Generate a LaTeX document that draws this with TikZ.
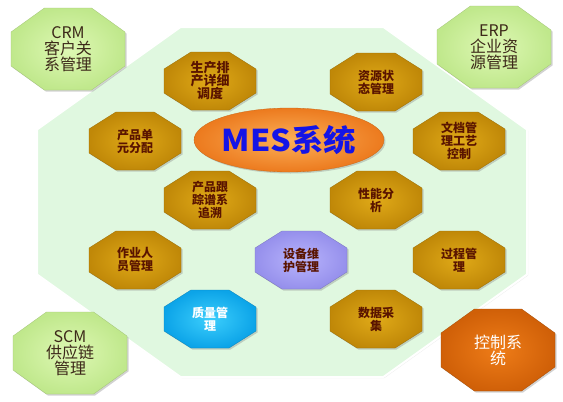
\documentclass[tikz,border=0pt]{standalone}
\usepackage{fontspec}
\newfontfamily\cjk{Noto Sans CJK SC}
\usetikzlibrary{shadows, shapes.geometric}

\definecolor{framefill}{RGB}{224,248,224}
\definecolor{greenlight}{RGB}{222,248,180}
\definecolor{greendark}{RGB}{192,232,140}
\definecolor{outerink}{RGB}{60,40,25}
\definecolor{goldlight}{RGB}{224,170,24}
\definecolor{golddark}{RGB}{192,136,8}
\definecolor{goldink}{RGB}{90,20,0}
\definecolor{purplelight}{RGB}{184,180,252}
\definecolor{purpledark}{RGB}{150,144,236}
\definecolor{cyanlight}{RGB}{60,206,252}
\definecolor{cyandark}{RGB}{12,164,232}
\definecolor{ctrllight}{RGB}{238,124,24}
\definecolor{ctrldark}{RGB}{208,96,8}
\definecolor{meslight}{RGB}{252,176,88}
\definecolor{mesdark}{RGB}{236,122,30}
\definecolor{mesink}{RGB}{20,20,230}

% octagon through centre (#1,#2), half width #3, half height #4
\newcommand{\octagon}[4]{({#1-#3},{#2-0.414*#4}) -- ({#1-0.414*#3},{#2-#4}) -- ({#1+0.414*#3},{#2-#4}) -- ({#1+#3},{#2-0.414*#4}) -- ({#1+#3},{#2+0.414*#4}) -- ({#1+0.414*#3},{#2+#4}) -- ({#1-0.414*#3},{#2+#4}) -- ({#1-#3},{#2+0.414*#4}) -- cycle}

\tikzset{
  boxshadow/.style={drop shadow={shadow xshift=1.5pt, shadow yshift=-1.5pt, opacity=0.35}},
  frame/.style={fill=framefill, draw=white, line width=2pt, drop shadow={shadow xshift=1pt, shadow yshift=-1pt, opacity=0.15}},
  outer/.style={boxshadow, inner color=greenlight, outer color=greendark, draw=greendark!85!black, line width=0.3pt},
  gold/.style={boxshadow, inner color=goldlight, outer color=golddark, draw=golddark!80!black, line width=0.3pt},
  equipbox/.style={boxshadow, inner color=purplelight, outer color=purpledark, draw=purpledark!80!black, line width=0.3pt},
  qualbox/.style={boxshadow, inner color=cyanlight, outer color=cyandark, draw=cyandark!80!black, line width=0.3pt},
  ctrlbox/.style={boxshadow, inner color=ctrllight, outer color=ctrldark, draw=ctrldark!80!black, line width=0.3pt},
  outer text/.style={align=center, text=outerink, font=\cjk\fontsize{16}{16}\selectfont},
  inner text/.style={align=center, text=goldink, font=\cjk\bfseries\fontsize{12}{13}\selectfont},
  mesball/.style={ellipse, minimum width=152pt, minimum height=64pt, inner sep=0pt,
    inner color=meslight, outer color=mesdark, draw=mesdark!85!black, line width=0.3pt, boxshadow,
    text=mesink, font=\cjk\bfseries\fontsize{30}{30}\selectfont},
}

\begin{document}
\begin{tikzpicture}[x=1pt, y=-1pt]
  \useasboundingbox[fill=white] (0,0) rectangle (563,402);

  % MES area
  \path[frame] \octagon{282}{202}{245}{175};

  % neighbouring systems
  \path[outer] \octagon{68}{49}{57}{41};
  \node[outer text] (crm) at (68,49) {CRM\\客户关\\系管理};
  \path[outer] \octagon{494}{47}{57}{41};
  \node[outer text] (erp) at (494,47) {ERP\\企业资\\源管理};
  \path[outer] \octagon{70}{353}{57}{41};
  \node[outer text] (scm) at (70,353) {SCM\\供应链\\管理};
  \path[ctrlbox] \octagon{498}{350}{57}{41};
  \node[outer text, text=white] (ctrl) at (498,350) {控制系\\统};

  % MES functions
  \path[gold] \octagon{210}{81}{46}{29};
  \node[inner text, font=\cjk\bfseries\fontsize{13}{13}\selectfont] (sched) at (210,81) {生产排\\产详细\\调度};
  \path[gold] \octagon{376}{82}{46}{29};
  \node[inner text] (res) at (376,82) {资源状\\态管理};
  \path[gold] \octagon{135}{141}{46}{29};
  \node[inner text] (unit) at (135,141) {产品单\\元分配};
  \path[gold] \octagon{459}{141}{46}{29};
  \node[inner text] (doc) at (459,141) {文档管\\理工艺\\控制};
  \path[gold] \octagon{210}{200}{46}{29};
  \node[inner text] (trace) at (210,200) {产品跟\\踪谱系\\追溯};
  \path[gold] \octagon{376}{200}{46}{29};
  \node[inner text] (perf) at (376,200) {性能分\\析};
  \path[gold] \octagon{135}{260}{46}{29};
  \node[inner text] (staff) at (135,260) {作业人\\员管理};
  \path[equipbox] \octagon{301}{260}{46}{29};
  \node[inner text] (equip) at (301,260) {设备维\\护管理};
  \path[gold] \octagon{459}{260}{46}{29};
  \node[inner text] (proc) at (459,260) {过程管\\理};
  \path[qualbox] \octagon{210}{319}{46}{29};
  \node[inner text, text=white] (qual) at (210,319) {质量管\\理};
  \path[gold] \octagon{376}{319}{46}{29};
  \node[inner text] (data) at (376,319) {数据采\\集};

  \node[mesball] (mes) at (289,140) {\scalebox{1.08}[1]{MES系统}};
\end{tikzpicture}
\end{document}
